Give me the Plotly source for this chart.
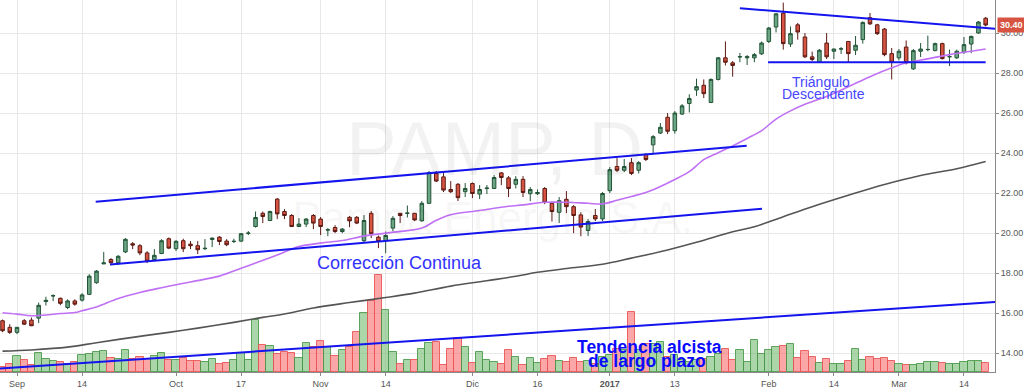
import plotly.graph_objects as go

# ---------------- data ----------------
day_index = list(range(137))

open_ = [15.62, 15.29, 15.04, 15.62, 15.65, 15.75, 16.58, 16.86, 16.74, 16.28,
         16.61, 16.65, 16.94, 17.52, 18.46, 18.68, 18.52, 19.06, 19.47, 19.37,
         19.01, 18.68, 18.98, 19.72, 19.22, 19.62, 19.45, 19.37, 19.22, 19.68,
         19.80, 19.60, 19.58, 19.60, 19.99, 20.33, 20.99, 20.63, 21.70, 21.08,
         20.88, 20.33, 20.45, 20.88, 20.70, 20.15, 20.28, 20.08, 20.79, 20.79,
         19.62, 20.99, 19.80, 19.62, 20.25, 20.99, 20.99, 20.99, 20.61, 21.49,
         22.98, 22.81, 22.18, 22.44, 22.07, 22.48, 21.95, 22.23, 22.23, 23.01,
         22.76, 22.44, 22.69, 21.97, 21.97, 22.23, 21.49, 21.04, 21.69, 21.32,
         20.91, 20.13, 20.88, 20.71, 22.12, 23.33, 23.14, 23.52, 23.14, 23.93,
         24.41, 25.00, 25.79, 25.12, 25.95, 26.48, 27.15, 27.39, 26.53, 27.68,
         28.76, 28.51, 28.80, 28.76, 28.76, 28.96, 29.58, 30.30, 30.99, 29.45,
         30.41, 29.80, 28.81, 28.56, 29.50, 29.09, 29.20, 29.58, 29.14, 29.67,
         30.77, 30.41, 30.20, 28.97, 28.76, 29.30, 28.21, 29.09, 29.17, 29.12,
         29.47, 28.81, 28.76, 29.04, 29.45, 30.00, 30.74]
high_ = [15.68, 15.45, 15.30, 15.70, 15.78, 16.53, 16.82, 16.94, 16.78, 16.69,
         16.69, 17.00, 17.95, 18.15, 19.06, 18.75, 18.90, 19.75, 19.55, 19.45,
         19.10, 19.20, 19.70, 19.78, 19.65, 19.72, 19.60, 19.60, 19.70, 19.78,
         19.85, 19.70, 19.72, 20.00, 20.10, 21.08, 21.08, 21.12, 21.75, 21.20,
         20.95, 20.75, 20.75, 20.95, 20.80, 20.25, 20.40, 20.25, 20.85, 20.85,
         20.90, 21.10, 19.88, 20.08, 20.85, 21.00, 21.38, 21.00, 21.60, 23.10,
         23.10, 23.00, 22.60, 22.50, 22.50, 22.53, 22.40, 22.40, 22.90, 23.05,
         22.85, 22.85, 22.85, 22.30, 22.18, 22.30, 21.57, 21.80, 22.10, 21.40,
         21.04, 20.70, 21.20, 22.05, 23.30, 23.75, 23.70, 23.75, 23.60, 24.00,
         24.90, 25.50, 26.00, 26.10, 26.45, 26.94, 27.72, 27.68, 27.73, 28.80,
         29.58, 28.60, 29.00, 28.90, 29.00, 29.58, 30.30, 31.00, 31.52, 30.33,
         30.50, 30.00, 29.07, 29.20, 30.00, 29.22, 29.30, 29.60, 29.85, 30.58,
         31.00, 30.46, 30.25, 29.25, 29.20, 29.63, 29.20, 29.50, 29.87, 29.52,
         29.52, 29.17, 29.17, 29.80, 29.87, 30.60, 30.80]
low_ = [15.05, 14.96, 14.95, 15.40, 15.35, 15.50, 16.38, 16.60, 16.40, 16.20,
        16.37, 16.58, 16.90, 17.47, 18.45, 18.40, 18.40, 19.00, 19.20, 18.90,
        18.50, 18.62, 18.95, 19.20, 19.10, 19.05, 19.20, 18.95, 19.15, 19.30,
        19.40, 19.35, 19.50, 19.55, 19.90, 20.28, 20.50, 20.60, 20.70, 20.70,
        20.30, 20.30, 20.30, 20.20, 19.90, 19.85, 20.00, 20.00, 20.30, 20.45,
        19.55, 19.75, 19.25, 19.00, 20.10, 20.50, 20.78, 20.60, 20.58, 21.45,
        22.55, 22.05, 22.00, 21.60, 21.80, 21.75, 21.70, 21.95, 22.20, 22.40,
        21.80, 22.23, 21.80, 21.60, 21.90, 21.45, 20.58, 20.50, 21.00, 20.00,
        19.84, 19.85, 20.60, 20.60, 22.00, 23.05, 23.05, 22.90, 22.98, 23.60,
        23.95, 24.95, 24.95, 24.97, 25.90, 26.03, 26.86, 26.75, 26.50, 27.63,
        28.38, 27.82, 28.54, 28.40, 28.54, 28.90, 29.50, 30.03, 29.17, 29.30,
        29.67, 28.75, 28.60, 28.50, 28.70, 28.70, 28.95, 28.55, 28.90, 29.47,
        30.40, 29.90, 28.84, 27.68, 28.63, 28.43, 28.16, 28.80, 29.09, 29.09,
        28.68, 28.35, 28.70, 28.95, 29.00, 29.96, 30.33]
close_ = [15.12, 15.04, 15.29, 15.45, 15.37, 16.39, 16.64, 16.87, 16.49, 16.61,
          16.45, 16.91, 17.85, 18.10, 18.51, 18.52, 18.84, 19.69, 19.40, 19.01,
          18.60, 18.89, 19.62, 19.25, 19.59, 19.22, 19.37, 19.17, 19.24, 19.75,
          19.58, 19.42, 19.59, 19.97, 20.00, 20.78, 20.83, 21.08, 20.96, 20.88,
          20.33, 20.45, 20.70, 20.50, 20.33, 20.17, 20.08, 20.20, 20.61, 20.50,
          20.63, 19.97, 19.58, 19.88, 20.74, 20.88, 21.00, 20.66, 21.49, 23.03,
          22.60, 22.15, 22.07, 21.77, 22.23, 21.98, 22.18, 22.25, 22.78, 22.78,
          22.23, 22.69, 22.03, 22.18, 22.03, 21.53, 21.08, 21.62, 21.32, 20.88,
          20.30, 20.58, 20.71, 21.98, 23.17, 23.14, 23.33, 22.98, 23.52, 23.68,
          24.82, 25.29, 25.09, 26.00, 26.36, 26.73, 27.32, 26.97, 27.68, 28.76,
          28.54, 28.38, 28.82, 28.82, 28.92, 29.50, 30.25, 30.96, 29.47, 29.97,
          30.05, 28.81, 28.68, 29.14, 28.81, 29.20, 29.21, 28.97, 29.39, 30.53,
          30.46, 29.97, 28.92, 28.54, 29.09, 28.51, 29.12, 29.20, 29.18, 29.47,
          28.72, 28.82, 29.09, 29.42, 29.83, 30.55, 30.40]
volume = [50, 80, 160, 120, 70, 190, 130, 110, 100, 80,
          100, 170, 180, 200, 210, 140, 130, 220, 130, 150,
          130, 160, 190, 120, 120, 140, 110, 110, 100, 130,
          80, 90, 120, 190, 120, 520, 270, 260, 180, 200,
          190, 140, 290, 250, 310, 250, 160, 220, 250, 400,
          590, 720, 980, 630, 200, 80, 120, 120, 230, 290,
          300, 70, 230, 340, 250, 90, 200, 120, 100, 80,
          220, 150, 70, 140, 90, 130, 160, 110, 100, 140,
          100, 110, 80, 150, 170, 230, 220, 600, 220, 280,
          280, 300, 150, 170, 120, 100, 120, 130, 150, 180,
          230, 120, 220, 100, 320, 180, 220, 250, 260, 280,
          140, 210, 150, 90, 130, 80, 80, 110, 230, 120,
          150, 130, 140, 110, 80, 70, 70, 80, 100, 100,
          90, 80, 80, 100, 110, 110, 90]

tick_index = [2, 11, 24, 33, 44, 53, 65, 74, 84, 93, 106, 115, 124, 133]
tick_text = ["Sep", "14", "Oct", "17", "Nov", "14", "Dic", "16", "<b>2017</b>",
             "13", "Feb", "14", "Mar", "14"]
price_ticks = [14, 16, 18, 20, 22, 24, 26, 28, 30]
price_tick_text = ["14.00", "16.00", "18.00", "20.00", "22.00", "24.00",
                   "26.00", "28.00", "30.00"]

ma_fast_idx = [0, 2, 4, 6, 8, 10, 11, 13, 16, 19, 22, 26, 30, 33, 35, 38, 41, 44,
               47, 50, 53, 58, 60, 62, 66, 70, 72, 75, 78, 81, 83, 85, 87, 89,
               91, 93, 95, 97, 99, 101, 103, 105, 107, 109, 111, 114, 117, 120,
               123, 125, 128, 131, 134, 136]
ma_fast = [16.02, 15.95, 15.87, 15.91, 15.98, 16.03, 16.12, 16.31, 16.73, 17.03,
           17.27, 17.56, 17.85, 18.24, 18.51, 18.91, 19.33, 19.50, 19.63, 19.85,
           20.00, 20.25, 20.64, 20.92, 21.13, 21.34, 21.41, 21.54, 21.54, 21.49,
           21.46, 21.64, 21.83, 22.03, 22.33, 22.68, 23.07, 23.67, 24.02, 24.36,
           24.73, 25.12, 25.70, 26.11, 26.44, 26.83, 27.32, 27.82, 28.26, 28.51,
           28.71, 28.92, 29.09, 29.20]
ma_slow_idx = [0, 4, 9, 13, 18, 23, 27, 32, 36, 39, 43, 48, 53, 57, 62, 67, 71, 74,
               78, 83, 87, 92, 96, 101, 104, 108, 112, 117, 122, 127, 132, 136]
ma_slow = [14.10, 14.16, 14.30, 14.52, 14.79, 15.04, 15.25, 15.54, 15.79, 15.96,
           16.26, 16.53, 16.78, 17.00, 17.35, 17.62, 17.84, 18.04, 18.23, 18.44,
           18.75, 19.16, 19.54, 20.07, 20.32, 20.82, 21.32, 21.89, 22.43, 22.88,
           23.22, 23.58]

# hand-drawn trend lines: (start index, end index), (start price, end price)
channel_upper = ([12.89, 102.94], [21.57, 24.36])
channel_lower = ([14.87, 105.06], [18.43, 21.22])
long_trend = ([-0.35, 137.3], [13.23, 16.56])
triangle_top = ([102.0, 137.3], [31.24, 30.21])
triangle_base = ([105.9, 136.0], [28.54, 28.54])
last_price = 30.40

# ---------------- styling ----------------
UP_FILL, UP_LINE = "#6ba583", "#225437"
DN_FILL, DN_LINE = "#d75442", "#5b1a13"
VOL_UP, VOL_UP_LINE = "rgba(100,180,100,0.55)", "rgba(70,150,70,0.85)"
VOL_DN, VOL_DN_LINE = "rgba(250,80,80,0.5)", "rgba(235,85,85,0.9)"
BLUE = "#1414ee"
GRID = "#e8e8e8"
AXIS = "#8a8a8a"
FONT = "Liberation Sans, Arial, sans-serif"

vol_colors = [VOL_UP if c >= o else VOL_DN for o, c in zip(open_, close_)]
vol_lines = [VOL_UP_LINE if c >= o else VOL_DN_LINE for o, c in zip(open_, close_)]

fig = go.Figure()

fig.add_trace(go.Bar(
    x=day_index, y=volume, yaxis="y",
    marker=dict(color=vol_colors, line=dict(color=vol_lines, width=1)),
    hoverinfo="skip", name="Volume"))

fig.add_trace(go.Scatter(
    x=ma_slow_idx, y=ma_slow, yaxis="y2", mode="lines",
    line=dict(color="#555555", width=1.6, shape="spline"), name="MA slow"))
fig.add_trace(go.Scatter(
    x=ma_fast_idx, y=ma_fast, yaxis="y2", mode="lines",
    line=dict(color="#c070f5", width=1.6, shape="spline"), name="MA fast"))

fig.add_trace(go.Candlestick(
    x=day_index, open=open_, high=high_, low=low_, close=close_, yaxis="y2",
    increasing=dict(fillcolor=UP_FILL, line=dict(color=UP_LINE, width=1)),
    decreasing=dict(fillcolor=DN_FILL, line=dict(color=DN_LINE, width=1)),
    whiskerwidth=0, name="PAMP"))

for xs, ys in [channel_upper, channel_lower, long_trend, triangle_top, triangle_base]:
    fig.add_trace(go.Scatter(x=xs, y=ys, yaxis="y2", mode="lines",
                             line=dict(color=BLUE, width=2), hoverinfo="skip"))

annotations = [
    dict(text="PAMP, D", x=0.497, y=0.60, xref="paper", yref="paper",
         showarrow=False, font=dict(family=FONT, size=76, color="rgba(0,0,0,0.05)")),
    dict(text="Pampa Energía S.A.", x=0.495, y=0.415, xref="paper", yref="paper",
         showarrow=False, font=dict(family=FONT, size=44, color="rgba(0,0,0,0.05)")),
    dict(text="Corrección Continua", x=54.98, y=18.52, xref="x", yref="y2",
         showarrow=False, font=dict(family=FONT, size=18, color="#3232ff")),
    dict(text="Triángulo", x=113.2, y=27.55, xref="x", yref="y2",
         showarrow=False, font=dict(family=FONT, size=14, color="#4646ff")),
    dict(text="Descendente", x=113.6, y=26.97, xref="x", yref="y2",
         showarrow=False, font=dict(family=FONT, size=14, color="#4646ff")),
    dict(text="<b>Tendencia alcista</b>", x=89.56, y=14.32, xref="x", yref="y2",
         showarrow=False, font=dict(family=FONT, size=17.5, color="#0a0aff")),
    dict(text="<b>de largo plazo</b>", x=89.15, y=13.63, xref="x", yref="y2",
         showarrow=False, font=dict(family=FONT, size=17.5, color="#0a0aff")),
    dict(text="<b>%.2f</b>" % last_price, x=1, y=last_price, xref="paper", yref="y2",
         xanchor="left", xshift=2, showarrow=False, bgcolor=DN_FILL, borderpad=2,
         font=dict(family=FONT, size=9, color="white")),
]

fig.update_layout(
    width=1024, height=389, autosize=False,
    margin=dict(l=0, r=29, t=0, b=14),
    paper_bgcolor="white", plot_bgcolor="white",
    showlegend=False, bargap=0, boxgap=0.3,
    annotations=annotations,
    xaxis=dict(range=[-0.351, 137.29], tickvals=tick_index, ticktext=tick_text,
               showgrid=True, gridcolor=GRID, gridwidth=1, zeroline=False,
               showline=True, linecolor=AXIS, ticks="outside", ticklen=3,
               tickcolor=AXIS, tickfont=dict(family=FONT, size=9, color="#555"),
               rangeslider=dict(visible=False), fixedrange=True),
    yaxis=dict(range=[0, 3750], visible=False, showgrid=False, zeroline=False),
    yaxis2=dict(overlaying="y", side="right", range=[13.058, 31.651],
                tickvals=price_ticks, ticktext=price_tick_text,
                showgrid=True, gridcolor=GRID, gridwidth=1, zeroline=False,
                showline=True, linecolor=AXIS, ticks="outside", ticklen=3,
                tickcolor=AXIS, tickfont=dict(family=FONT, size=9, color="#555")),
)

fig.write_html(
    "out.html",
    config={"displayModeBar": False},
    post_script="document.body.style.margin='0';document.body.style.overflow='hidden';",
)
